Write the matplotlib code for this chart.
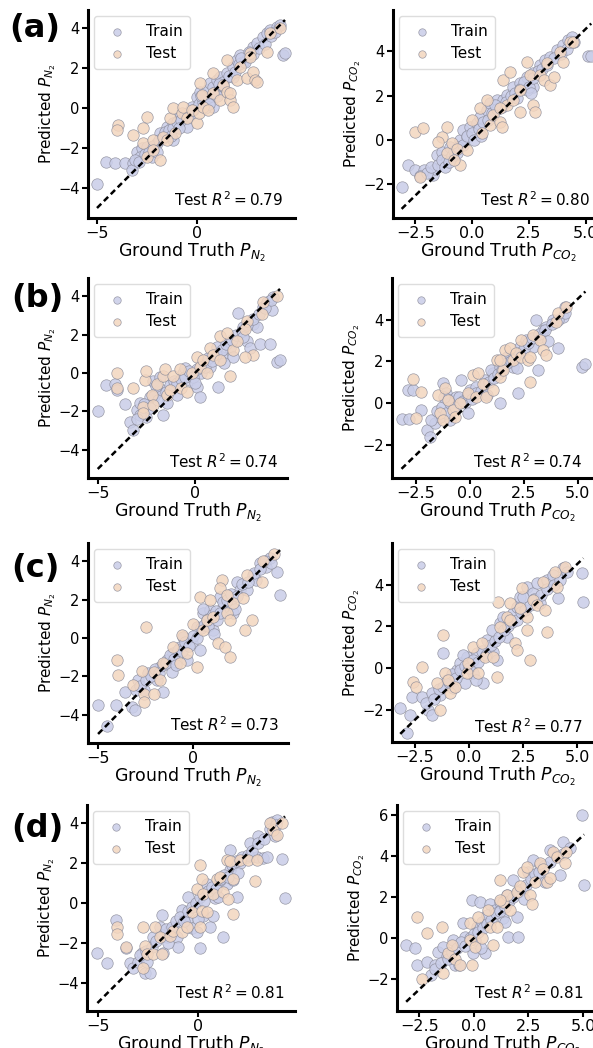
import matplotlib
matplotlib.use("Agg")
import matplotlib.pyplot as plt
import numpy as np

plt.rcParams['font.family'] = ['DejaVu Sans']

# ---------------- data (ground truth, predicted) ----------------
a_n2_train = [(-5.0,-3.8),(-4.55,-2.72),(-4.1,-2.73),(-3.6,-2.73),(-3.2,-2.77),(-3.27,-3.1),(-3.0,-2.2),
    (-2.77,-2.0),(-2.85,-2.43),(-2.5,-1.93),(-2.27,-2.43),(-2.0,-1.77),(-1.85,-1.27),(-1.5,-0.93),(-1.35,-1.27),
    (-1.18,-0.77),(-0.85,-0.43),(-0.52,-0.27),(-0.27,0.07),(0.0,0.57),(0.15,0.82),(0.32,0.4),(0.48,0.9),
    (0.65,1.23),(0.82,1.07),(0.98,1.4),(1.15,1.57),(1.32,1.32),(1.48,1.73),(1.82,2.07),(1.98,2.4),(2.15,2.65),
    (2.32,2.32),(2.57,2.57),(2.82,3.07),(2.98,3.23),(3.32,3.57),(3.48,3.73),(3.65,3.9),(3.98,4.07),(4.15,4.15),
    (4.32,2.65),(4.4,2.73),(0.82,0.07),(1.82,1.57),(-0.52,-0.93),(-1.18,-1.6),
    (-3.1,-2.6),(-2.9,-2.7),(-2.6,-2.3),(-2.4,-2.2),(-2.2,-1.9),(-1.9,-1.6),(-1.7,-1.5),(-1.6,-1.2),(-1.4,-1.1),
    (-1.2,-1.0),(-1.0,-0.7),(-0.8,-0.6),(-0.6,-0.3),(-0.4,-0.4),(-0.2,-0.1),(0.1,0.2),(0.3,0.3),(0.5,0.5),
    (0.7,0.6),(0.9,0.8),(1.1,1.2),(1.3,1.1),(1.6,1.6),(1.9,1.8),(2.1,2.2),(2.4,2.3),(2.6,2.8),(2.8,2.7),
    (3.1,3.0),(3.4,3.2),(3.7,3.6),(3.9,3.8),(0.4,0.0),(0.6,0.2),(-0.9,-1.0),(-2.0,-2.2),(2.2,2.5),(1.0,0.6),
    (-1.3,-1.4),(0.2,0.6)]
a_n2_test = [(-3.93,-0.85),(-4.02,-1.1),(-2.52,-0.43),(-2.68,-1.02),(-3.18,-1.35),(-2.68,-1.77),(-2.52,-2.43),
    (-2.18,-1.6),(-1.85,-2.6),(-1.68,-1.43),(-1.35,-0.52),(-1.18,-0.02),(-1.1,-1.27),(-0.77,-0.27),(-0.68,0.07),
    (-0.52,-0.52),(-0.27,-0.1),(0.0,-0.77),(0.1,-0.27),(0.15,1.23),(0.23,0.65),(0.32,0.07),(0.57,-0.1),
    (0.82,0.73),(0.82,1.73),(1.15,0.4),(1.32,1.15),(1.48,0.82),(1.48,2.4),(1.65,0.4),(1.82,0.07),(1.65,0.73),
    (1.98,1.4),(2.15,2.07),(2.65,2.73),(2.48,1.48),(2.82,1.82),(2.9,1.4),(2.98,1.32),(2.65,2.57),(3.48,2.82),
    (3.65,3.73),(4.15,3.98),(-2.18,-2.1),(-1.52,-1.6)]

a_co2_train = [(-3.1,-2.1),(-2.8,-1.1),(-2.53,-1.35),(-2.1,-1.35),(-1.73,-1.58),(-1.63,-1.29),(-1.55,-0.68),
    (-1.33,-0.53),(-1.1,-0.9),(-0.96,-0.3),(-0.67,-0.6),(-0.52,0.0),(-0.38,0.45),(-0.23,0.15),(-0.08,0.6),
    (0.21,0.75),(0.35,1.05),(0.65,1.35),(0.79,1.65),(1.09,1.8),(1.38,1.8),(1.53,2.03),(1.82,2.4),(2.12,2.55),
    (2.41,2.85),(2.7,3.0),(3.0,3.38),(3.22,3.6),(3.44,3.75),(3.73,4.05),(4.03,4.28),(4.25,4.5),(4.4,4.65),
    (5.1,3.8),(5.25,3.8),(2.7,2.4),(2.41,2.25),
    (-2.3,-1.6),(-2.0,-1.5),(-1.8,-1.2),(-1.5,-1.1),(-1.3,-0.9),(-1.2,-1.2),(-0.9,-0.7),(-0.8,-0.5),(-0.6,-0.3),
    (-0.4,-0.2),(-0.2,0.2),(0.0,0.3),(0.1,0.0),(0.3,0.5),(0.5,0.8),(0.7,0.9),(0.9,1.2),(1.1,1.4),(1.3,1.5),
    (1.5,1.7),(1.7,2.0),(1.9,2.1),(2.1,2.3),(2.3,2.6),(2.5,2.4),(2.7,2.8),(2.9,3.1),(3.1,3.2),(3.3,3.4),
    (3.6,3.7),(3.9,3.9),(4.2,4.1),(4.5,4.4),(1.0,1.6),(2.0,1.9),(-1.0,-1.0),(0.4,0.2),(2.6,2.1)]
a_co2_test = [(-2.53,0.38),(-2.16,0.53),(-2.31,-1.65),(-1.1,0.6),(-1.33,0.15),(-1.48,-0.08),(-1.1,-0.6),
    (-0.89,-0.15),(-0.67,-0.38),(-0.52,-1.13),(-0.81,-0.9),(-0.23,-0.45),(-0.01,0.9),(0.35,1.43),(0.43,0.3),
    (0.65,1.8),(0.79,0.68),(0.94,1.13),(1.24,0.83),(1.31,0.6),(1.38,2.7),(1.68,3.08),(1.53,1.58),(1.82,1.8),
    (2.12,2.25),(2.12,1.28),(2.41,3.53),(2.56,2.95),(2.7,1.58),(2.78,1.28),(3.0,2.95),(3.15,2.7),(3.29,3.45),
    (3.44,2.48),(3.59,2.85),(3.88,3.98),(4.03,3.53),(4.32,4.43),(4.47,4.43),(1.24,1.43)]

b_n2_train = [(-5.0,-2.0),(-4.55,-0.63),(-4.12,-0.57),(-4.03,-0.89),(-3.61,-1.61),(-3.35,-2.54),(-3.18,-2.97),
    (-3.0,-1.93),(-2.84,-1.58),(-2.49,-2.28),(-2.32,-1.24),(-2.15,-0.4),(-1.97,-0.97),(-1.63,-2.19),(-1.8,-0.2),
    (-1.46,-1.58),(-1.12,-0.71),(-0.94,-1.14),(-0.6,0.0),(-0.52,0.24),(-0.26,-0.36),(0.09,-0.71),(0.26,-1.24),
    (0.34,0.0),(0.6,0.67),(0.77,0.33),(1.12,1.36),(1.2,-0.71),(1.37,0.84),(1.8,1.28),(1.97,0.84),(2.06,1.66),
    (2.23,3.14),(2.49,2.4),(2.66,1.66),(2.84,1.28),(3.01,2.53),(3.18,2.4),(3.35,1.53),(3.52,3.45),(3.69,3.7),
    (3.95,3.27),(4.03,3.96),(3.86,1.53),(4.2,0.59),(4.38,0.67),
    (-2.8,-2.2),(-2.6,-1.6),(-2.3,-1.8),(-2.1,-1.2),(-1.9,-1.4),(-1.7,-0.9),(-1.5,-1.0),(-1.3,-0.6),(-1.1,-0.4),
    (-0.9,-0.5),(-0.7,-0.3),(-0.5,-0.2),(-0.3,0.1),(-0.1,-0.2),(0.1,0.2),(0.3,0.4),(0.5,0.3),(0.7,0.8),
    (0.9,0.6),(1.1,1.0),(1.4,1.2),(1.6,1.5),(1.9,1.7),(2.1,2.0),(2.4,2.2),(2.7,2.5),(3.0,2.8),(3.3,3.1),
    (3.6,3.4),(3.9,3.8),(-3.0,-2.4),(-2.0,-0.7),(0.0,-0.5),(1.5,0.5),(2.5,1.9)]
b_n2_test = [(-4.03,-0.02),(-4.03,-0.78),(-3.18,-0.78),(-2.58,-0.36),(-2.49,0.08),(-2.66,-1.75),(-2.66,-2.1),
    (-2.23,-1.14),(-2.15,-1.66),(-1.97,-0.59),(-1.63,-0.17),(-1.55,0.19),(-1.46,-1.14),(-1.29,-0.89),
    (-1.12,-0.17),(-0.77,0.19),(-0.69,-0.78),(-0.43,-0.97),(-0.17,0.0),(0.09,0.84),(0.26,0.33),(0.43,0.67),
    (0.6,0.0),(0.77,1.28),(0.94,0.95),(1.29,0.67),(1.29,1.91),(1.63,2.08),(1.8,-0.17),(1.97,1.19),(2.15,1.66),
    (2.66,2.71),(2.58,2.27),(3.01,0.95),(3.52,3.71),(3.43,3.1),(4.2,4.03),(2.58,0.84)]

b_co2_train = [(-3.16,-0.79),(-2.79,-0.75),(-2.85,0.63),(-2.62,0.63),(-2.24,-0.33),(-2.0,-1.3),(-1.85,-1.62),
    (-1.62,-0.98),(-1.39,-0.66),(-1.24,0.95),(-1.08,0.46),(-0.93,0.14),(-0.93,-0.82),(-0.62,0.3),(-0.39,1.1),
    (-0.23,-0.02),(-0.08,-0.5),(0.0,0.63),(0.31,0.79),(0.69,1.1),(1.08,1.42),(1.0,1.58),(1.39,1.74),(1.39,-0.02),
    (1.7,2.23),(2.0,1.74),(2.24,0.46),(2.31,2.71),(2.62,3.03),(2.93,2.71),(3.08,3.99),(3.24,3.19),(3.39,3.51),
    (3.54,3.67),(3.85,3.99),(4.08,2.63),(4.31,4.15),(4.39,4.63),(5.2,1.75),(5.35,1.88),(3.16,1.58),
    (-1.8,-0.8),(-1.5,-0.4),(-1.3,-0.2),(-1.1,-0.5),(-0.9,0.0),(-0.7,-0.2),(-0.5,0.3),(-0.3,0.1),(-0.1,0.4),
    (0.1,0.2),(0.3,0.5),(0.5,0.6),(0.7,0.9),(0.9,1.0),(1.1,1.2),(1.3,1.4),(1.5,1.6),(1.7,1.9),(1.9,2.0),
    (2.1,2.2),(2.3,2.4),(2.5,2.6),(2.7,2.9),(2.9,3.1),(3.2,3.3),(3.5,3.5),(3.8,3.8),(4.1,4.0),(4.4,4.3),
    (0.8,0.4),(2.2,1.7),(-1.2,0.3),(3.6,3.0)]
b_co2_test = [(-2.62,1.17),(-2.24,0.54),(-2.47,-0.74),(-1.47,0.38),(-1.16,0.7),(-1.39,-0.5),(-1.24,-0.82),
    (-1.0,0.14),(-0.77,-0.34),(-0.69,-0.66),(-0.46,-0.02),(-0.08,0.46),(0.15,1.34),(0.39,1.42),(0.31,0.3),
    (0.62,0.91),(0.77,0.3),(1.08,0.63),(1.24,2.07),(1.39,1.26),(1.54,1.58),(1.62,2.55),(1.85,2.63),(2.0,2.07),
    (2.16,2.39),(2.39,2.23),(2.39,3.03),(2.7,2.07),(2.77,1.02),(2.93,3.27),(3.24,3.03),(3.39,2.55),(3.54,2.31),
    (4.0,3.91),(4.08,4.31),(4.46,4.63),(2.77,2.23),(1.39,2.07)]

c_n2_train = [(-5.0,-3.49),(-4.55,-4.58),(-4.05,-3.49),(-3.58,-2.79),(-3.23,-3.58),(-3.05,-3.75),(-2.88,-2.18),
    (-2.6,-2.7),(-2.35,-1.84),(-1.91,-2.18),(-1.56,-2.79),(-1.74,-1.5),(-1.39,-1.15),(-1.12,-1.75),(-1.04,-0.8),
    (-0.68,-0.45),(-0.51,0.07),(-0.33,-1.15),(-0.07,-0.28),(0.19,0.59),(0.37,-0.63),(0.54,1.28),(0.72,0.93),
    (0.89,1.45),(1.07,0.42),(1.25,0.93),(1.6,1.62),(1.95,1.8),(2.12,1.28),(2.3,2.93),(2.47,2.5),(2.82,2.5),
    (3.16,3.28),(3.33,3.02),(3.51,3.89),(3.86,3.72),(4.05,4.15),(4.4,3.45),(4.58,2.24),(1.44,2.15),
    (-3.0,-2.7),(-2.8,-2.5),(-2.5,-2.2),(-2.2,-2.0),(-2.0,-1.6),(-1.8,-1.8),(-1.6,-1.4),(-1.4,-1.3),(-1.2,-0.9),
    (-1.0,-1.1),(-0.8,-0.6),(-0.6,-0.7),(-0.4,-0.2),(-0.2,-0.4),(0.0,0.1),(0.2,0.0),(0.4,0.5),(0.6,0.7),
    (0.8,0.6),(1.0,1.2),(1.2,1.4),(1.4,1.3),(1.6,1.9),(1.8,2.0),(2.0,2.3),(2.3,2.2),(2.6,2.8),(2.9,2.9),
    (3.2,3.4),(3.5,3.6),(3.8,4.0),(4.1,3.9),(0.5,1.5),(1.1,0.2),(-0.9,-1.4),(2.2,1.5)]
c_n2_test = [(-4.02,-1.15),(-3.93,-1.92),(-3.14,-2.45),(-2.46,0.59),(-2.7,-1.7),(-2.6,-2.9),(-2.6,-3.32),
    (-2.07,-1.75),(-2.07,-2.9),(-1.74,-2.18),(-1.56,-1.32),(-1.04,-0.45),(-0.68,-1.32),(-0.6,0.16),(-0.33,-0.8),
    (0.19,-1.5),(0.02,0.75),(0.37,2.15),(0.54,0.42),(0.89,1.97),(0.72,0.93),(1.32,-0.28),(1.5,3.02),(1.67,-0.45),
    (1.42,2.58),(1.77,1.28),(1.95,-0.97),(2.12,1.8),(1.95,0.93),(2.65,2.06),(2.82,3.28),(2.74,0.42),(3.09,0.93),
    (3.61,2.93),(3.7,4.0),(4.25,4.4),(1.77,2.24),(1.07,1.1)]

c_co2_train = [(-3.17,-1.94),(-2.84,-3.14),(-2.72,-2.26),(-2.65,-1.38),(-2.19,-1.38),(-1.88,-2.02),(-1.72,-2.26),
    (-1.72,-1.22),(-1.18,0.7),(-1.33,-1.3),(-1.03,-0.58),(-0.72,-0.98),(-0.57,-0.1),(-0.41,0.22),(-0.18,-0.74),
    (-0.1,0.54),(0.19,-0.26),(0.35,0.7),(0.66,-0.74),(0.81,1.34),(1.04,1.82),(1.12,0.78),(1.43,2.14),(1.58,2.46),
    (1.73,1.5),(2.04,2.62),(2.2,2.94),(2.35,3.42),(2.66,3.9),(2.96,3.58),(3.12,4.06),(3.27,3.1),(3.58,4.22),
    (3.89,4.46),(4.12,3.34),(4.35,4.78),(5.19,4.54),(5.27,3.18),
    (-2.0,-1.7),(-1.6,-1.5),(-1.4,-1.0),(-1.2,-0.9),(-0.9,-0.7),(-0.8,-0.3),(-0.6,-0.5),(-0.4,-0.1),(-0.2,0.1),
    (0.0,0.0),(0.2,0.4),(0.4,0.3),(0.6,0.8),(0.8,0.6),(1.0,1.1),(1.2,1.3),(1.4,1.5),(1.6,1.8),(1.8,2.0),
    (2.0,2.2),(2.2,2.3),(2.4,2.7),(2.6,2.8),(2.8,3.0),(3.0,3.3),(3.3,3.5),(3.6,3.8),(3.9,4.0),(4.2,4.2),
    (4.5,4.6),(0.3,-0.6),(1.3,0.4),(2.5,3.4),(-0.3,0.6)]
c_co2_test = [(-2.19,0.06),(-2.59,-0.66),(-2.44,-0.9),(-1.49,-0.74),(-1.33,-2.02),(-1.18,1.58),(-1.1,-0.26),
    (-0.95,-0.58),(-0.87,-1.22),(-0.64,-0.9),(-0.1,-0.26),(-0.03,0.22),(0.19,1.02),(0.42,-0.26),(0.58,1.18),
    (0.73,0.54),(1.12,0.54),(1.27,-0.42),(1.35,3.18),(1.43,1.98),(1.73,2.46),(1.89,3.1),(2.12,1.18),(2.2,0.86),
    (2.35,2.86),(2.43,3.82),(2.66,2.46),(2.66,1.82),(2.81,0.38),(2.96,3.26),(3.12,3.02),(3.43,4.14),(3.5,2.78),
    (3.58,1.74),(3.96,4.62),(4.04,3.9),(4.43,4.86),(1.89,2.3)]

d_n2_train = [(-5.03,-2.5),(-4.57,-3.0),(-4.1,-0.85),(-3.6,-2.28),(-3.4,-3.03),(-3.23,-3.28),(-2.98,-2.95),
    (-2.82,-2.53),(-2.65,-3.53),(-2.4,-3.53),(-2.57,-2.95),(-2.23,-1.7),(-1.9,-1.2),(-1.82,-0.6),(-1.73,-2.53),
    (-1.57,-1.7),(-1.4,-1.36),(-1.07,-1.7),(-0.98,-2.2),(-0.82,-0.35),(-0.57,-0.85),(-0.48,0.3),(-0.32,-1.28),
    (-0.07,-1.45),(0.1,-2.28),(0.27,-0.68),(0.43,0.97),(0.6,-1.2),(0.77,-0.68),(0.85,0.25),(1.27,-1.7),
    (1.43,0.97),(1.6,1.65),(1.77,1.15),(1.93,0.32),(2.1,2.0),(2.43,2.33),(2.6,2.99),(2.93,2.33),(3.02,3.34),
    (3.27,2.27),(3.43,2.33),(3.68,4.08),(3.93,4.18),(3.85,3.34),(4.18,2.2),(4.35,0.25),(1.6,2.67),(1.1,1.15),
    (-2.9,-2.6),(-2.6,-2.4),(-2.3,-2.2),(-2.1,-1.9),(-1.8,-1.6),(-1.6,-1.3),(-1.3,-1.2),(-1.1,-0.9),(-0.9,-0.7),
    (-0.7,-0.9),(-0.5,-0.4),(-0.3,-0.2),(-0.1,0.0),(0.1,0.3),(0.3,0.1),(0.5,0.6),(0.7,0.8),(0.9,0.7),
    (1.1,1.2),(1.3,1.4),(1.5,1.3),(1.7,1.9),(1.9,2.1),(2.2,2.3),(2.5,2.4),(2.7,2.6),(3.0,3.0),(3.3,3.2),
    (3.6,3.7),(3.9,3.9),(0.0,-0.8),(1.0,0.3),(-1.5,-2.0),(2.0,1.5)]
d_n2_test = [(-4.03,-1.23),(-4.03,-1.56),(-3.6,-2.23),(-2.73,-1.23),(-2.73,-3.28),(-2.65,-2.15),(-2.57,-2.56),
    (-2.23,-2.56),(-2.15,-1.23),(-1.9,-1.73),(-1.82,-2.56),(-1.4,-1.65),(-1.23,-1.4),(-0.82,-1.48),(-0.57,-1.23),
    (-0.32,-0.48),(-0.07,0.68),(0.1,-1.23),(0.1,1.9),(0.18,-0.4),(0.27,0.45),(0.43,-0.48),(0.77,0.45),(0.18,1.2),
    (0.93,1.2),(1.1,1.3),(1.27,0.55),(1.52,0.2),(1.43,2.17),(1.77,-0.58),(1.6,2.1),(1.77,1.2),(2.1,2.17),
    (2.52,2.17),(2.85,1.1),(2.93,2.17),(3.77,3.68),(3.93,3.41),(4.18,4.0),(3.6,4.0)]

d_co2_train = [(-3.11,-0.34),(-2.7,-0.5),(-2.62,-1.3),(-2.17,-1.15),(-1.95,-1.8),(-1.8,-1.3),(-1.63,-0.67),
    (-1.41,-0.44),(-1.25,-0.9),(-0.94,-0.1),(-0.87,-1.3),(-0.49,0.72),(-0.41,0.07),(-0.1,1.85),(-0.03,-0.75),
    (0.05,-0.1),(0.12,0.56),(0.28,1.77),(0.35,0.8),(0.5,-0.75),(0.58,1.11),(0.73,1.67),(0.96,1.35),(1.19,1.77),
    (1.35,0.96),(1.5,2.08),(1.57,0.07),(1.8,2.82),(2.03,2.26),(2.03,0.07),(1.96,1.04),(2.26,2.4),(2.5,3.22),
    (2.72,3.81),(3.03,3.57),(3.26,2.73),(3.49,4.28),(3.95,3.06),(4.1,4.68),(4.95,6.0),(5.05,2.6),
    (-1.8,-1.5),(-1.5,-1.2),(-1.2,-1.0),(-1.0,-0.7),(-0.8,-0.5),(-0.6,-0.2),(-0.4,-0.4),(-0.2,0.0),(0.0,0.2),
    (0.2,0.3),(0.4,0.5),(0.6,0.7),(0.8,0.9),(1.0,1.2),(1.2,1.3),(1.4,1.5),(1.6,1.8),(1.8,2.0),(2.0,2.3),
    (2.2,2.4),(2.4,2.6),(2.6,2.9),(2.8,3.1),(3.0,3.2),(3.2,3.5),(3.5,3.7),(3.8,4.0),(4.1,4.1),(4.4,4.4),
    (-0.7,-1.3),(0.3,-0.5),(1.4,0.8),(2.3,1.9)]
d_co2_test = [(-2.62,1.04),(-2.17,0.25),(-2.4,-2.0),(-1.48,0.56),(-1.41,-1.72),(-1.18,-0.75),(-1.03,-0.34),
    (-0.87,-1.04),(-0.64,-1.3),(-0.18,-0.1),(-0.18,0.72),(-0.1,-1.3),(0.05,-0.44),(0.2,1.04),(0.35,-0.02),
    (0.66,1.35),(0.73,0.56),(0.89,-0.34),(1.04,0.56),(1.19,2.84),(1.35,1.77),(1.5,2.08),(1.65,1.35),(1.96,2.24),
    (2.12,2.56),(2.26,3.22),(2.42,3.46),(2.57,2.08),(2.65,1.67),(2.8,2.73),(3.03,3.65),(3.18,3.35),(3.33,2.73),
    (3.49,2.91),(3.64,4.2),(3.79,3.93),(4.24,4.2),(4.18,3.66),(1.19,1.85)]

panel_labels = ['(a)', '(b)', '(c)', '(d)']
r2_values = ['0.79', '0.80', '0.74', '0.74', '0.73', '0.77', '0.81', '0.81']
gases = ['N_2', 'CO_2']

panels = [
    (a_n2_train, a_n2_test), (a_co2_train, a_co2_test),
    (b_n2_train, b_n2_test), (b_co2_train, b_co2_test),
    (c_n2_train, c_n2_test), (c_co2_train, c_co2_test),
    (d_n2_train, d_n2_test), (d_co2_train, d_co2_test),
]

# ---------------- layout (pixels: left, top, right, bottom) ----------------
W, H = 593, 1048
boxes = [
    (88, 10, 295, 218), (393, 10, 603, 218),
    (88, 278, 287, 478), (392, 278, 602, 478),
    (88, 543, 288, 743), (392, 543, 602, 742),
    (87, 805, 295, 1011), (397, 805, 607, 1011),
]
xlims = [(-5.45, 4.9), (-3.48, 5.77), (-5.5, 4.74), (-3.6, 6.12),
         (-5.53, 5.0), (-3.55, 6.13), (-5.55, 4.85), (-3.53, 6.1)]
ylims = [(-5.5, 4.9), (-3.51, 5.86), (-5.47, 4.95), (-3.6, 6.0),
         (-5.47, 4.95), (-3.56, 6.0), (-5.43, 4.92), (-3.56, 6.49)]
r2_pos = [(0.942, 0.087), (0.938, 0.087), (0.955, 0.08), (0.905, 0.08),
          (0.955, 0.09), (0.905, 0.075), (0.947, 0.087), (0.886, 0.087)]
label_pos = [(35, 29), (37, 299), (35, 568), (37, 828)]

train_color = '#c9cde8'
test_color = '#f3d6bf'
edge_color = '#8c8c9a'

fig = plt.figure(figsize=(W / 100, H / 100), dpi=100)

for i, ((tr, te), box) in enumerate(zip(panels, boxes)):
    l, t, r, b = box
    ax = fig.add_axes([l / W, 1 - b / H, (r - l) / W, (b - t) / H])
    tr = np.array(tr)
    te = np.array(te)
    ax.scatter(tr[:, 0], tr[:, 1], s=68, c=train_color, edgecolors=edge_color,
               linewidths=0.5, alpha=0.85, label='Train', zorder=2)
    ax.scatter(te[:, 0], te[:, 1], s=68, c=test_color, edgecolors=edge_color,
               linewidths=0.5, alpha=0.85, label='Test', zorder=3)
    allx = np.concatenate([tr[:, 0], te[:, 0]])
    lo, hi = allx.min(), allx.max()
    ax.plot([lo, hi], [lo, hi], color='black', lw=1.8, ls=(0, (2.4, 1.5)), zorder=4)
    ax.set_xlim(*xlims[i])
    ax.set_ylim(*ylims[i])
    g = gases[i % 2]
    ax.set_xlabel(r'Ground Truth $P_{%s}$' % g, fontsize=12.5, labelpad=-0.5)
    ax.set_ylabel(r'Predicted $P_{%s}$' % g, fontsize=11, labelpad=0)
    if i % 2 == 0:
        ax.set_xticks([-5, 0])
        ax.set_yticks([-4, -2, 0, 2, 4])
    else:
        ax.set_xticks([-2.5, 0.0, 2.5, 5.0])
        ax.set_xticklabels(['\u22122.5', '0.0', '2.5', '5.0'])
        yt = [-2, 0, 2, 4] if i < 7 else [-2, 0, 2, 4, 6]
        ax.set_yticks(yt)
    ax.tick_params(axis='x', labelsize=11.5, width=1.5, length=4, pad=2)
    ax.tick_params(axis='y', labelsize=10.5, width=1.5, length=4, pad=2)
    for s in ['top', 'right']:
        ax.spines[s].set_visible(False)
    for s in ['left', 'bottom']:
        ax.spines[s].set_linewidth(2.2)
    ax.text(r2_pos[i][0], r2_pos[i][1], r'Test $R^2 = %s$' % r2_values[i],
            transform=ax.transAxes, ha='right', va='center', fontsize=11)
    ax.legend(loc='upper left', fontsize=11, markerscale=0.65, handletextpad=0.9,
              borderaxespad=0.4, frameon=True, edgecolor='#dddddd', framealpha=1.0,
              borderpad=0.5, labelspacing=0.5, handlelength=2.0)

for lab, (px, py) in zip(panel_labels, label_pos):
    fig.text(px / W, 1 - py / H, lab, fontsize=23, fontweight='bold', ha='center', va='center')

fig.savefig('out.png', dpi=100)
